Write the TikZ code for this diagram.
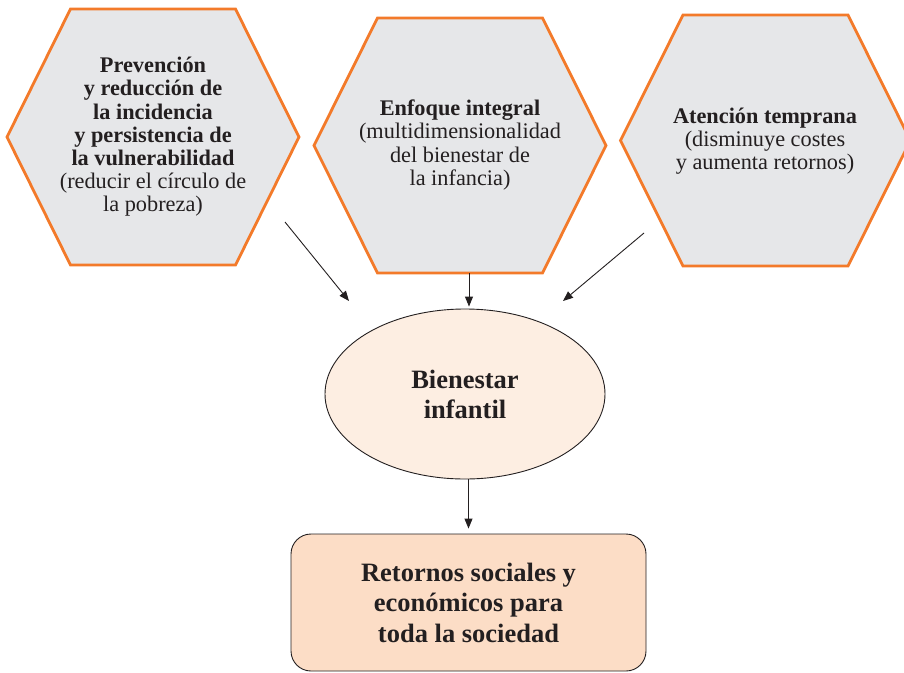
\documentclass[tikz,border=0pt]{standalone}
\usepackage{fontspec}
\setmainfont{Liberation Serif}
\usetikzlibrary{shapes.geometric,arrows.meta}
\definecolor{hexorange}{HTML}{F37A2A}
\definecolor{hexfill}{HTML}{E6E7E9}
\definecolor{ellfill}{HTML}{FDEEE2}
\definecolor{recfill}{HTML}{FCDDC6}
\definecolor{ink}{HTML}{231F20}
\tikzset{
  hexbox/.style={draw=hexorange, fill=hexfill, line width=2.8pt, line join=miter},
  hextext/.style={align=center, text=ink, inner sep=0pt, font=\fontsize{22.3}{23.2}\selectfont},
  ellbox/.style={ellipse, draw=ink, fill=ellfill, line width=0.9pt, minimum width=280pt, minimum height=170pt, inner sep=0pt, align=center, text=ink, font=\fontsize{26.5}{30}\selectfont\bfseries},
  recbox/.style={draw=ink, fill=recfill, line width=0.9pt, rounded corners=20pt, minimum width=355pt, minimum height=137pt, inner sep=0pt, align=center, text=ink, font=\fontsize{26.5}{30.5}\selectfont\bfseries},
  arr/.style={draw=ink, line width=0.9pt, -{Triangle[length=10pt,width=8pt]}}
}
\begin{document}
\begin{tikzpicture}[x=1pt,y=-1pt]
\useasboundingbox (0,0) rectangle (904,672);
% hexagons
\path[hexbox, shift={(153,137)}] (-146,0) -- (-82.5,-128) -- (82.5,-128) -- (146,0) -- (82.5,128) -- (-82.5,128) -- cycle;
\path[hexbox, shift={(460,145.5)}] (-146,0) -- (-82.5,-127.5) -- (82.5,-127.5) -- (146,0) -- (82.5,127.5) -- (-82.5,127.5) -- cycle;
\path[hexbox, shift={(765.5,140.5)}] (-145,0) -- (-82.5,-125.5) -- (82.5,-125.5) -- (145,0) -- (82.5,125.5) -- (-82.5,125.5) -- cycle;
\node[hextext] (h1) at (153,137) {\textbf{Prevención}\\ \textbf{y reducción de}\\ \textbf{la incidencia}\\ \textbf{y persistencia de}\\ \textbf{la vulnerabilidad}\\ (reducir el círculo de\\ la pobreza)};
\node[hextext] (h2) at (460,145) {\textbf{Enfoque integral}\\ (multidimensionalidad\\ del bienestar de\\ la infancia)};
\node[hextext] (h3) at (765,141) {\textbf{Atención temprana}\\ (disminuye costes\\ y aumenta retornos)};
% center ellipse and bottom box
\node[ellbox] (ell) at (465,394) {Bienestar\\ infantil};
\node[recbox] (rec) at (468.5,602.5) {Retornos sociales y\\ económicos para\\ toda la sociedad};
% connectors
\coordinate (a1s) at (285,222);
\coordinate (a1e) at (349,301);
\coordinate (a2s) at (469,273);
\coordinate (a3s) at (644,233);
\coordinate (a3e) at (563,301);
\draw[arr] (a1s) -- (a1e);
\draw[arr, shorten >=2pt] (a2s) -- (a2s |- ell.north);
\draw[arr] (a3s) -- (a3e);
\draw[arr, shorten >=5pt] (ell.south -| rec.north) -- (rec.north);
\end{tikzpicture}
\end{document}
